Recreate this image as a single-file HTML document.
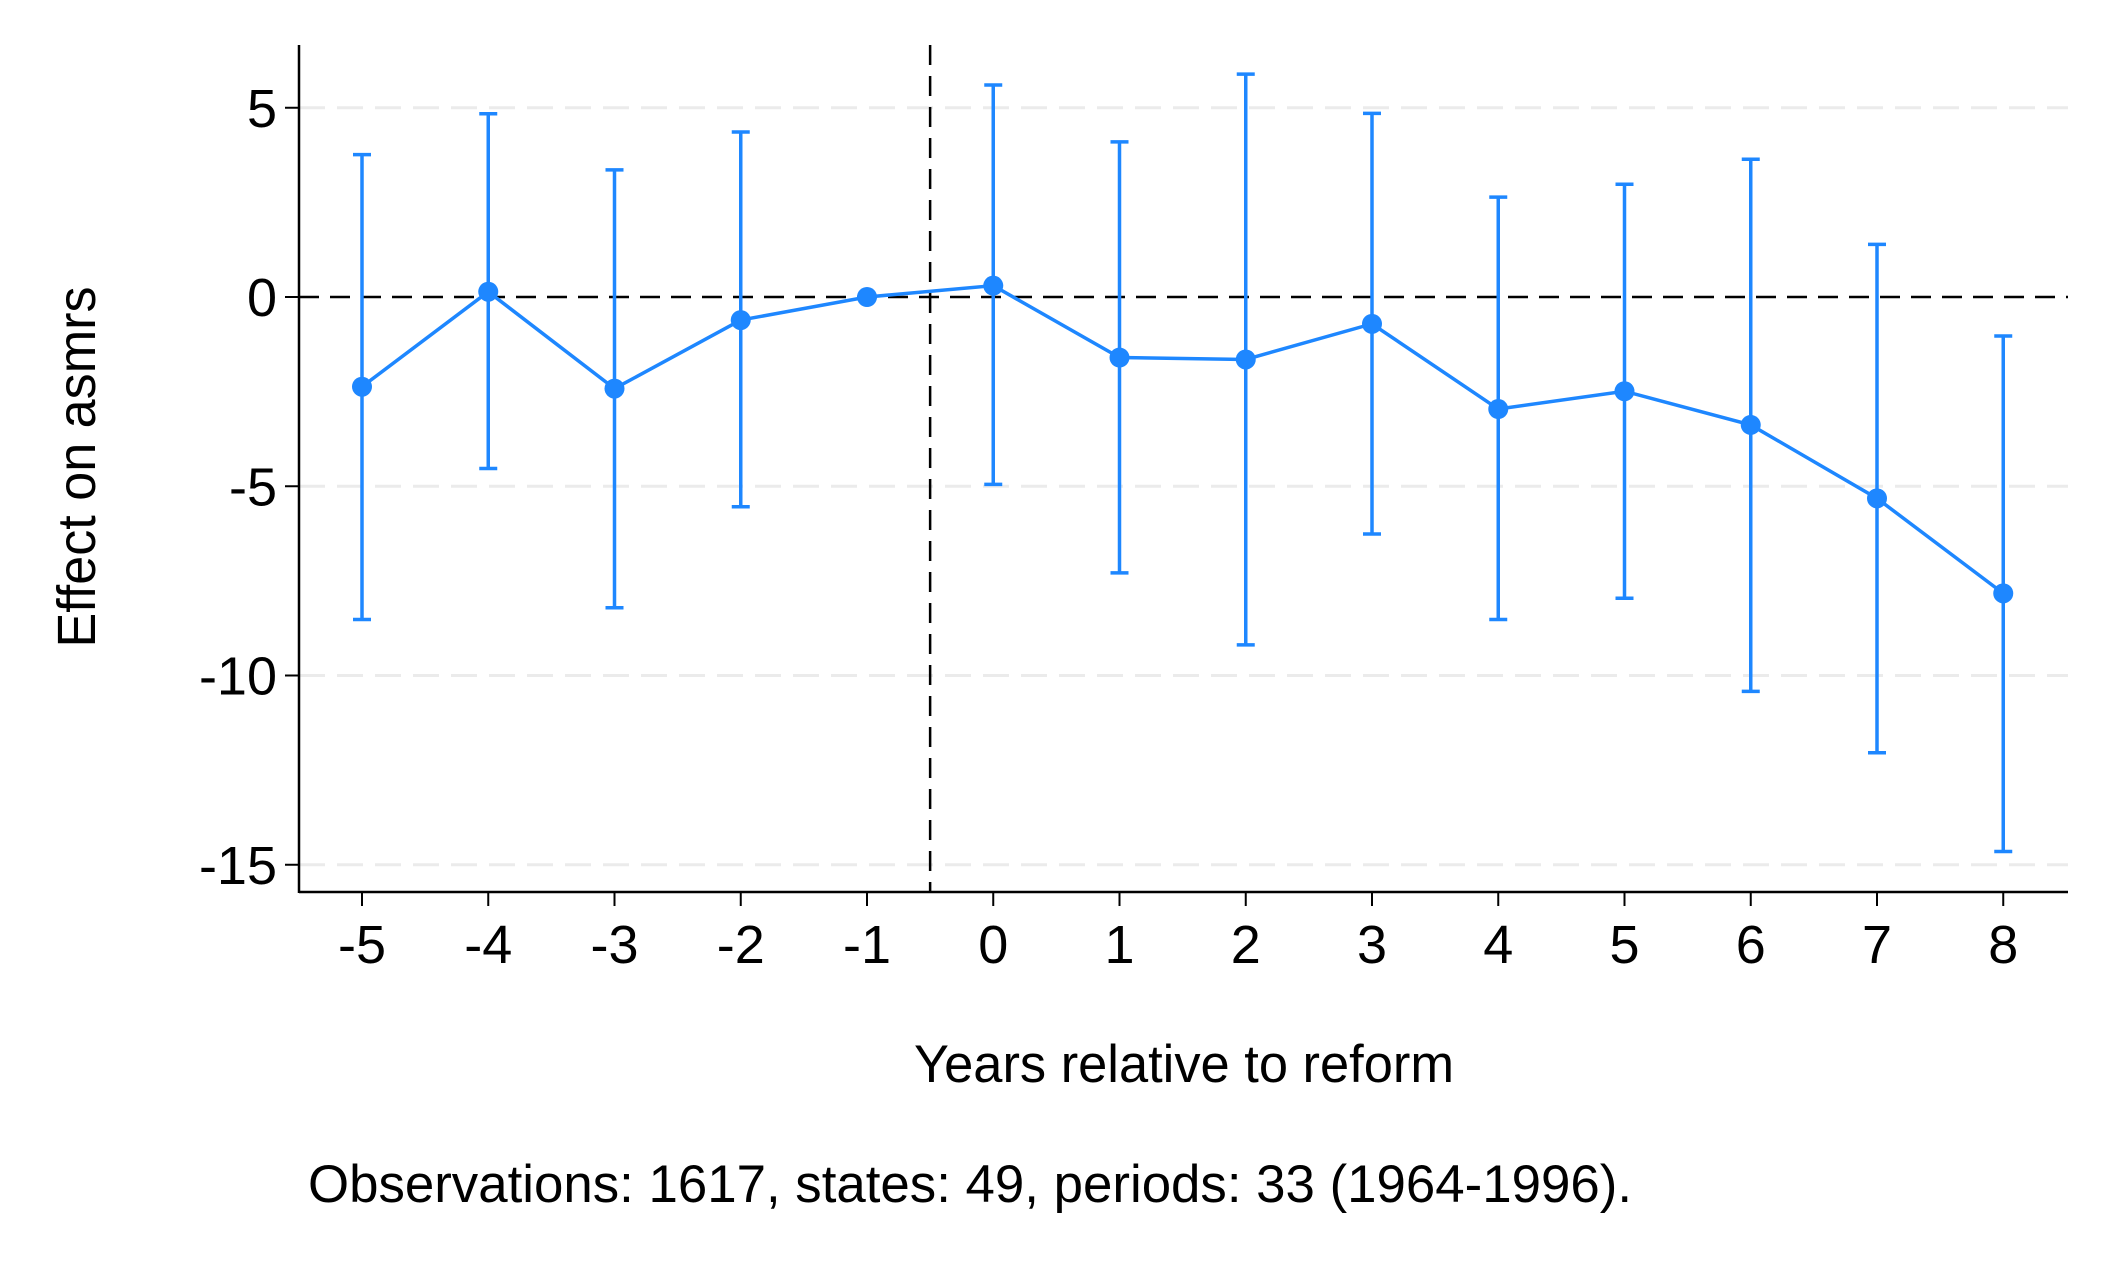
<!DOCTYPE html>
<html><head><meta charset="utf-8"><style>
html,body{margin:0;padding:0;background:#fff;}
svg{display:block;font-family:"Liberation Sans",Arial,sans-serif;}
</style></head><body>
<svg id="chart" width="2112" height="1268" viewBox="0 0 2112 1268" xmlns="http://www.w3.org/2000/svg">
<rect width="2112" height="1268" fill="#fff"/>
<g id="grid"></g>
<g id="axes"></g>
<g id="series"></g>
<text x="0" y="0" transform="translate(95,467) rotate(-90)" text-anchor="middle" font-size="54" textLength="361" lengthAdjust="spacingAndGlyphs">Effect on asmrs</text>
<text x="1184" y="1082" text-anchor="middle" font-size="53" textLength="540" lengthAdjust="spacingAndGlyphs">Years relative to reform</text>
<text x="308" y="1202" font-size="53" textLength="1324" lengthAdjust="spacingAndGlyphs">Observations: 1617, states: 49, periods: 33 (1964-1996).</text>
</svg>
<script>
const categories = [-5,-4,-3,-2,-1,0,1,2,3,4,5,6,7,8];
const estimates = [-2.37,0.14,-2.42,-0.61,0,0.3,-1.6,-1.65,-0.71,-2.96,-2.49,-3.38,-5.32,-7.83];
const upperCI = [3.76,4.84,3.36,4.36,0,5.6,4.1,5.89,4.85,2.64,2.98,3.64,1.39,-1.03];
const lowerCI = [-8.52,-4.53,-8.21,-5.54,0,-4.95,-7.29,-9.19,-6.26,-8.52,-7.96,-10.42,-12.04,-14.65];
const yTicks = [5,0,-5,-10,-15];
const yTickLabels = ["5","0","-5","-10","-15"];
const refLineX = -0.5;

const NS="http://www.w3.org/2000/svg";
const X0=299, X1=2068, YT=45, YB=892;
const xs = v => 362 + (v - (-5)) * 126.25;
const ys = v => 297 - v * 37.85;
const BLUE="#1e87ff";
function mk(tag, attrs, parent){const e=document.createElementNS(NS,tag);for(const k in attrs)e.setAttribute(k,attrs[k]);parent.appendChild(e);return e;}
const grid=document.getElementById('grid'), axes=document.getElementById('axes'), series=document.getElementById('series');

yTicks.forEach((t,i)=>{
  const y=ys(t);
  if(t!==0){const g=mk('line',{x1:X0,x2:X1,y1:y,y2:y,stroke:'#ebebeb','stroke-width':3,'stroke-dasharray':'26 12'},grid);
  
  }
  const tk=mk('line',{x1:X0-14,x2:X0,y1:y,y2:y,stroke:'#000','stroke-width':2},axes);
  
  
  const tx=mk('text',{x:X0-22,y:y+19,'text-anchor':'end','font-size':54},axes);
  
  
  tx.textContent=yTickLabels[i];
});
const zl=mk('line',{x1:X0,x2:X1,y1:ys(0),y2:ys(0),stroke:'#000','stroke-width':2.5,'stroke-dasharray':'20 11'},axes);


const vl=mk('line',{x1:xs(refLineX),x2:xs(refLineX),y1:YT,y2:YB,stroke:'#000','stroke-width':2.5,'stroke-dasharray':'20 11'},axes);


const ya=mk('line',{x1:X0,x2:X0,y1:YT,y2:YB+1,stroke:'#000','stroke-width':2.5},axes);


const xa=mk('line',{x1:X0,x2:X1,y1:YB,y2:YB,stroke:'#000','stroke-width':2.5},axes);


categories.forEach(c=>{
  const x=xs(c);
  const tk=mk('line',{x1:x,x2:x,y1:YB,y2:YB+14,stroke:'#000','stroke-width':2},axes);
  
  
  const tx=mk('text',{x:x,y:963,'text-anchor':'middle','font-size':54},axes);
  
  
  tx.textContent=String(c);
});
categories.forEach((c,i)=>{
  if(upperCI[i]===lowerCI[i]) return;
  const x=xs(c);
  const g=mk('g',{},series);
  
  
  mk('line',{x1:x,x2:x,y1:ys(upperCI[i]),y2:ys(lowerCI[i]),stroke:BLUE,'stroke-width':3.5},g);
  mk('line',{x1:x-9,x2:x+9,y1:ys(upperCI[i]),y2:ys(upperCI[i]),stroke:BLUE,'stroke-width':3.5},g);
  mk('line',{x1:x-9,x2:x+9,y1:ys(lowerCI[i]),y2:ys(lowerCI[i]),stroke:BLUE,'stroke-width':3.5},g);
});
const pl=mk('polyline',{points:categories.map((c,i)=>xs(c)+','+ys(estimates[i])).join(' '),fill:'none',stroke:BLUE,'stroke-width':3.5},series);


categories.forEach((c,i)=>{
  const p=mk('circle',{cx:xs(c),cy:ys(estimates[i]),r:10,fill:BLUE},series);
  
  
});
</script>
</body></html>
